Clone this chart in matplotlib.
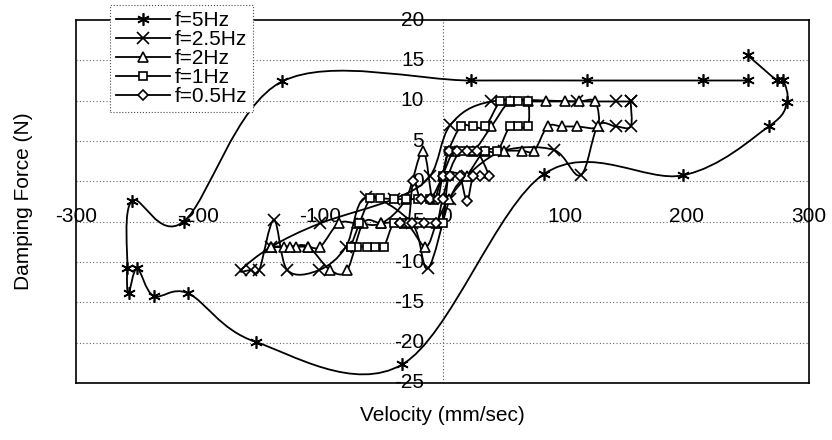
import numpy as np
import matplotlib
matplotlib.use('Agg')
import matplotlib.pyplot as plt
from matplotlib.path import Path
from matplotlib.patches import PathPatch
from matplotlib.lines import Line2D

plt.rcParams['font.family'] = ['Liberation Sans', 'DejaVu Sans']

# f = 5 Hz
v5 = [250, 274, 279, 282, 267, 197, 83, -33, -153, -208, -236.5, -250, -257, -258,
      -254, -212, -131, 23, 118, 213, 250]
f5 = [15.6, 12.5, 12.5, 9.8, 6.8, 0.75, 0.9, -22.7, -19.9, -13.9, -14.2, -10.8, -13.9, -10.8,
      -2.4, -5.0, 12.4, 12.5, 12.5, 12.5, 12.5]

# f = 2.5 Hz
v25 = [154, 154, 142, 127, 113, 91, 50, 20, 6, -12, -25, -63, -79, -101, -127, -138,
       -150, -157, -165, -140, -100, -40, -10, 6.5, 40, 110, 142, 154]
f25 = [9.9, 6.8, 6.8, 6.8, 0.75, 3.9, 3.8, 0.7, -2.2, -10.8, -5.2, -2.0, -8.1, -11.0, -11.0, -4.8,
       -11.0, -11.0, -11.0, -8.1, -5.2, -2.2, 0.7, 7.0, 9.9, 9.9, 9.9, 9.9]

# f = 2 Hz
v2 = [-140, -130, -120, -110, -100, -85, -70, -50, -30, -16, -8, 0, 10, 25, 40, 55, 70, 85,
      100, 112, 125, 127, 110, 98, 86, 75, 65, 50, 35, 20, 5, -5, -14, -30, -50, -65, -78,
      -92, -110, -125, -140]
f2 = [-8.1, -8.1, -8.1, -8.1, -8.1, -5.2, -5.2, -5.2, -2.2, 3.8, -2.2, 0.7, 3.8, 3.8, 6.8,
      9.9, 9.9, 9.9, 9.9, 9.9, 9.9, 6.8, 6.8, 6.8, 6.8, 3.8, 3.8, 3.8, 3.8, 0.7, -2.2, -5.2,
      -8.1, -5.2, -5.2, -5.2, -11.0, -11.0, -8.1, -8.1, -8.1]

# f = 1 Hz
v1 = [-75, -68, -59, -51, -40, -30, -20, -10, 0, 5, 15, 25, 35, 47, 55, 62, 70, 70, 62, 55,
      45, 35, 25, 15, 5, 0, -10, -20, -30, -40, -48, -55, -62, -70, -75]
f1 = [-8.1, -5.2, -2.1, -2.1, -2.2, -2.2, -2.2, -2.2, 0.7, 3.8, 6.8, 6.8, 6.8, 9.9, 9.9, 9.9,
      9.9, 6.8, 6.8, 6.8, 3.8, 3.8, 3.8, 3.8, 0.7, -5.2, -5.2, -5.2, -5.2, -5.2, -8.1, -8.1,
      -8.1, -8.1, -8.1]

# f = 0.5 Hz
v05 = [-35, -28, -24, -18, -10, -4, 0, 5, 12, 20, 28, 38, 31, 25, 20, 14, 6, 0, -5, -15,
       -25, -35]
f05 = [-5.2, -5.2, 0.0, -2.2, -2.2, -2.2, 0.7, 3.8, 3.8, 3.8, 3.8, 0.6, 0.6, 0.6, -2.4, 0.7,
       0.7, -2.2, -5.2, -5.2, -5.2, -5.2]

series = [
    ('f=5Hz', v5, f5, dict(marker=(6, 2, 0), markersize=9, mfc='black')),
    ('f=2.5Hz', v25, f25, dict(marker='x', markersize=8, mfc='black')),
    ('f=2Hz', v2, f2, dict(marker='^', markersize=6.5, mfc='white')),
    ('f=1Hz', v1, f1, dict(marker='s', markersize=5.5, mfc='white')),
    ('f=0.5Hz', v05, f05, dict(marker='D', markersize=5, mfc='white')),
]

x_ticks = [-300, -200, -100, 0, 100, 200, 300]
y_ticks = [-25, -20, -15, -10, -5, 0, 5, 10, 15, 20]


def smooth_path(xs, ys):
    # Excel style smoothed line (Catmull-Rom as cubic Bezier)
    pts = np.column_stack([xs, ys]).astype(float)
    n = len(pts)
    verts = [pts[0]]
    codes = [Path.MOVETO]
    for i in range(n - 1):
        p0 = pts[i - 1] if i > 0 else pts[i]
        p1 = pts[i]
        p2 = pts[i + 1]
        p3 = pts[i + 2] if i + 2 < n else pts[i + 1]
        verts += [p1 + (p2 - p0) / 6, p2 - (p3 - p1) / 6, p2]
        codes += [Path.CURVE4] * 3
    return Path(verts, codes)


fig = plt.figure(figsize=(8.32, 4.4), dpi=100)
ax = fig.add_axes([76 / 832, 1 - 383 / 440, (809 - 76) / 832, (383 - 20) / 440])
ax.set_xlim(-300, 300)
ax.set_ylim(-25, 20)

# dotted grid + y axis at x=0
for y in y_ticks[1:-1]:
    ax.axhline(y, color='0.4', lw=0.8, ls=(0, (1, 2)), zorder=1)
ax.axvline(0, color='0.3', lw=0.8, ls=(0, (1, 2)), zorder=1)

handles = []
for name, xs, ys, style in series:
    ax.add_patch(PathPatch(smooth_path(xs, ys), fill=False, edgecolor='black', lw=1.3, zorder=3))
    ax.plot(xs, ys, ls='none', color='black', mec='black', mew=1.2, zorder=4, **style)
    handles.append(Line2D([], [], color='black', lw=1.3, mec='black', mew=1.2, label=name, **style))

ax.set_xticks([])
ax.set_yticks([])
for s in ax.spines.values():
    s.set_linewidth(1.2)

# tick labels drawn along the crossing axes, like the original sheet
for x in x_ticks:
    xpos = x + 3 if x == 0 else x
    ax.text(xpos, -4.3, str(x), ha='center', va='center', fontsize=15, clip_on=False, zorder=2)
for y in y_ticks:
    ax.text(-15, y, str(y), ha='right', va='center', fontsize=15, clip_on=False, zorder=2)

fig.text(442 / 832, 1 - 415 / 440, 'Velocity (mm/sec)', ha='center', va='center', fontsize=15)
fig.text(24 / 832, 1 - 201 / 440, 'Damping Force (N)', ha='center', va='center',
         rotation=90, fontsize=15)

leg = fig.legend(handles=handles, loc='upper left', bbox_to_anchor=(110 / 832, 1 - 5 / 440),
                 bbox_transform=fig.transFigure, borderaxespad=0, fontsize=15,
                 handlelength=2.6, handletextpad=0.2, labelspacing=0.0, borderpad=0.3,
                 fancybox=False, framealpha=1, edgecolor='0.3')
leg.get_frame().set_linestyle(':')
leg.get_frame().set_linewidth(0.8)
leg.set_zorder(10)

fig.savefig('out.png', dpi=100)
